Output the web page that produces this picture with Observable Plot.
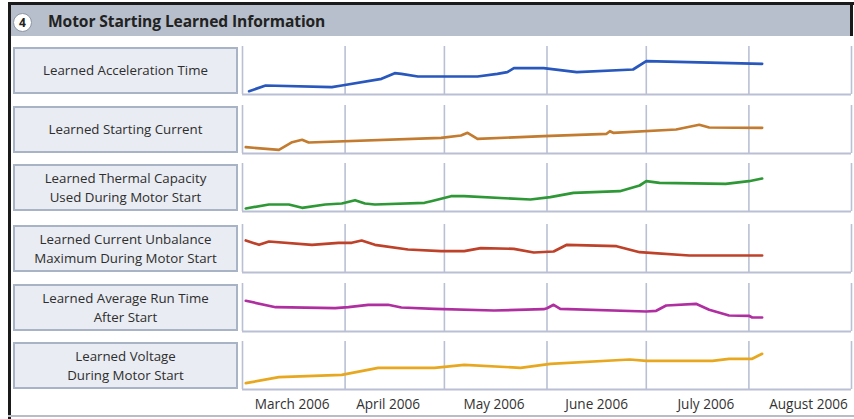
<!DOCTYPE html>
<html>
<head>
<meta charset="utf-8">
<script src="https://cdn.jsdelivr.net/npm/d3@7"></script>
<script src="https://cdn.jsdelivr.net/npm/@observablehq/plot@0.6"></script>
<style>
  html, body { margin: 0; padding: 0; background: #fff; }
  #wrap { position: relative; width: 854px; height: 419px; overflow: hidden; background: #fff;
          font-family: "Open Sans", "Noto Sans", sans-serif; color: #333; }
  .border-top { position: absolute; left: 8px; top: 2px; width: 846px; height: 3px; background: #1a1a1a; }
  .border-left { position: absolute; left: 8px; top: 2px; width: 3px; height: 417px; background: #1a1a1a; }
  .border-right { position: absolute; left: 850px; top: 2px; width: 3px; height: 34px; background: #1a1a1a; }
  .border-bottom { position: absolute; left: 8px; top: 415px; width: 846px; height: 2px; background: #b9bcc4; }
  .band { position: absolute; left: 11px; top: 5px; width: 839px; height: 31px; background: #b6bfcb; }
  .badge { position: absolute; left: 13px; top: 13px; width: 19px; height: 19px; border-radius: 50%;
           background: #fff; border: 1px solid #8d97a6; box-sizing: border-box;
           font-size: 12px; font-weight: 700; line-height: 17px; text-align: center; color: #222; }
  .title { position: absolute; left: 48px; top: 10px; font-size: 15.6px; font-weight: 700; color: #222;
           letter-spacing: -0.1px; }
  .lbl { position: absolute; left: 13px; width: 225px; height: 47px; box-sizing: border-box;
         background: #e9ecf2; border: 2px solid #a8b3c6; display: flex; align-items: center;
         justify-content: center; text-align: center; font-size: 13.3px; line-height: 19px; color: #2e2e2e; }
  .panel { position: absolute; left: 240px; }
</style>
</head>
<body>
<div id="wrap">
  <div class="band"></div>
  <div class="border-top"></div>
  <div class="border-left"></div>
  <div class="border-right"></div>
  <div class="border-bottom"></div>
  <div class="badge">4</div>
  <div class="title">Motor Starting Learned Information</div>
</div>
<script>
// ---- Data (values are relative levels, 0 = panel floor, 48 = panel top) ----
const rowLabels = [
  "Learned Acceleration Time",
  "Learned Starting Current",
  "Learned Thermal Capacity<br>Used During Motor Start",
  "Learned Current Unbalance<br>Maximum During Motor Start",
  "Learned Average Run Time<br>After Start",
  "Learned Voltage<br>During Motor Start"
];
const seriesColors = ["#2857bd", "#c27b2f", "#2e9836", "#be4129", "#b02fa0", "#e7a81f"];

const accelerationTime = [
  ["2006-03-03", 3.3], ["2006-03-08", 9], ["2006-03-28", 7.3], ["2006-03-31", 9],
  ["2006-04-12", 15.7], ["2006-04-16", 21.3], ["2006-04-18", 20.7], ["2006-04-23", 18],
  ["2006-05-11", 18], ["2006-05-17", 20.7], ["2006-05-20", 22.3], ["2006-05-22", 26.3],
  ["2006-05-31", 26.3], ["2006-06-10", 22.3], ["2006-06-27", 25], ["2006-07-01", 33.3],
  ["2006-08-05", 30.7]
];
const startingCurrent = [
  ["2006-03-02", 6.3], ["2006-03-12", 3.7], ["2006-03-16", 11.3], ["2006-03-19", 13.7],
  ["2006-03-21", 11], ["2006-04-30", 15.7], ["2006-05-06", 18], ["2006-05-08", 20.7],
  ["2006-05-11", 14.7], ["2006-05-31", 17.3], ["2006-06-19", 19.7], ["2006-06-20", 22.3],
  ["2006-06-21", 20.7], ["2006-07-10", 24], ["2006-07-17", 28.7], ["2006-07-20", 26],
  ["2006-08-05", 25.7]
];
const thermalCapacity = [
  ["2006-03-02", 3], ["2006-03-09", 7], ["2006-03-15", 7], ["2006-03-19", 3.7],
  ["2006-03-26", 7], ["2006-03-31", 8], ["2006-04-04", 11.3], ["2006-04-07", 8],
  ["2006-04-10", 7], ["2006-04-25", 8.7], ["2006-04-27", 10.3], ["2006-05-03", 15.3],
  ["2006-05-07", 15.3], ["2006-05-27", 12], ["2006-06-02", 14.3], ["2006-06-09", 18.7],
  ["2006-06-23", 20.3], ["2006-06-29", 26], ["2006-07-01", 30.3], ["2006-07-05", 28.7],
  ["2006-07-25", 27.7], ["2006-08-01", 30.3], ["2006-08-05", 33]
];
const currentUnbalance = [
  ["2006-03-02", 32], ["2006-03-06", 27.7], ["2006-03-09", 31], ["2006-03-22", 27.7],
  ["2006-03-30", 29.7], ["2006-04-03", 29.7], ["2006-04-06", 32], ["2006-04-10", 27.7],
  ["2006-04-20", 23], ["2006-04-30", 21.3], ["2006-05-07", 21.3], ["2006-05-12", 24.3],
  ["2006-05-22", 23.7], ["2006-05-28", 20], ["2006-06-03", 21], ["2006-06-07", 27.7],
  ["2006-06-22", 26.3], ["2006-06-29", 20.3], ["2006-07-14", 17], ["2006-08-05", 17]
];
const averageRunTime = [
  ["2006-03-02", 30.7], ["2006-03-11", 24.3], ["2006-03-29", 23.3], ["2006-04-02", 24.3],
  ["2006-04-08", 26.7], ["2006-04-14", 26.7], ["2006-04-18", 24], ["2006-04-28", 22.7],
  ["2006-05-16", 21], ["2006-05-31", 22.3], ["2006-06-01", 23.3], ["2006-06-03", 26.7],
  ["2006-06-05", 22.7], ["2006-07-01", 20], ["2006-07-04", 20.7], ["2006-07-07", 26],
  ["2006-07-16", 27.7], ["2006-07-20", 21.7], ["2006-07-26", 16], ["2006-08-01", 15.7],
  ["2006-08-02", 14], ["2006-08-05", 14]
];
const voltage = [
  ["2006-03-02", 6.3], ["2006-03-12", 12.3], ["2006-03-31", 14.7], ["2006-04-11", 21.7],
  ["2006-04-28", 21.7], ["2006-05-07", 24.7], ["2006-05-24", 21.7], ["2006-06-02", 25.7],
  ["2006-06-26", 30], ["2006-07-01", 28.7], ["2006-07-21", 28.7], ["2006-07-26", 30.7],
  ["2006-08-02", 30.7], ["2006-08-05", 35.7]
];
const allSeries = [accelerationTime, startingCurrent, thermalCapacity, currentUnbalance, averageRunTime, voltage];

const monthStarts = ["2006-03-01", "2006-04-01", "2006-05-01", "2006-06-01", "2006-07-01", "2006-08-01", "2006-09-01"];
const monthTicks = ["2006-03-16", "2006-04-14", "2006-05-16", "2006-06-16", "2006-07-19", "2006-08-19"];
const monthLabels = ["March 2006", "April 2006", "May 2006", "June 2006", "July 2006", "August 2006"];

// ---- Layout ----
const panelTops = [46, 105, 163, 224, 283, 341];
const panelH = 48;
const gridColor = "#bac0d4";
const wrap = document.getElementById("wrap");
const parse = d3.utcParse("%Y-%m-%d");
const xDomain = [parse(monthStarts[0]), parse(monthStarts[monthStarts.length - 1])];
const tickLabel = new Map(monthTicks.map((d, i) => [+parse(d), monthLabels[i]]));

rowLabels.forEach((label, i) => {
  const box = document.createElement("div");
  box.className = "lbl";
  box.style.top = (panelTops[i] + 1) + "px";
  box.innerHTML = "<span>" + label + "</span>";
  wrap.appendChild(box);

  const last = i === rowLabels.length - 1;
  const data = allSeries[i].map(([d, v]) => ({date: parse(d), value: v}));
  const extraBottom = last ? 28 : 0;
  const marks = [
    Plot.ruleX(monthStarts.map(parse), {stroke: gridColor, strokeWidth: 1.6}),
    Plot.ruleY([0], {stroke: gridColor, strokeWidth: 2.2}),
    Plot.line(data, {x: "date", y: "value", stroke: seriesColors[i], strokeWidth: 2.7,
                     strokeLinejoin: "round", strokeLinecap: "round"})
  ];
  if (last) {
    marks.push(Plot.axisX(monthTicks.map(parse), {
      tickSize: 0, tickPadding: 10, fontSize: 13.6, fill: "#333",
      tickFormat: d => tickLabel.get(+d)
    }));
  }
  const chart = Plot.plot({
    width: 614,
    height: panelH + 2 + extraBottom,
    marginLeft: 2, marginRight: 3, marginTop: 1, marginBottom: 1 + extraBottom,
    style: {background: "transparent", fontFamily: "'Open Sans', 'Noto Sans', sans-serif", color: "#333", overflow: "visible"},
    x: {type: "utc", domain: xDomain, axis: null},
    y: {domain: [0, 48], axis: null},
    marks
  });
  chart.classList.add("panel");
  chart.style.position = "absolute";
  chart.style.left = "240px";
  chart.style.top = (panelTops[i] - 1) + "px";
  wrap.appendChild(chart);
});
</script>
</body>
</html>
